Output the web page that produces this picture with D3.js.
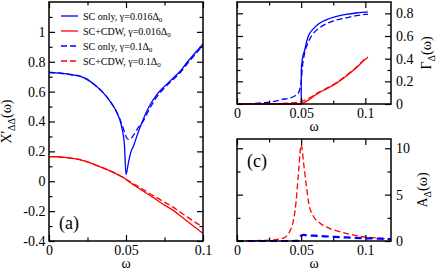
<!DOCTYPE html>
<html>
<head>
<meta charset="utf-8">
<script src="https://cdn.jsdelivr.net/npm/d3@7"></script>
<style>
  body { margin: 0; background: #fff; }
  svg { font-family: "Liberation Serif", "DejaVu Serif", serif; }
</style>
</head>
<body>
<div id="chart"></div>
<script>
// ---- panel (a): X'_ΔΔ(ω) ----
var omegaA = [0, 0.005, 0.01, 0.015, 0.02, 0.025, 0.03, 0.035, 0.04, 0.044, 0.047, 0.049, 0.05,
              0.0515, 0.053, 0.055, 0.058, 0.061, 0.065, 0.07, 0.075, 0.08, 0.085, 0.09, 0.095, 0.1];
var scOnlyLowA = [0.728, 0.726, 0.72, 0.713, 0.704, 0.68, 0.642, 0.595, 0.53, 0.462, 0.372, 0.24, 0.045,
                  0.12, 0.19, 0.24, 0.33, 0.41, 0.50, 0.58, 0.635, 0.685, 0.735, 0.80, 0.86, 0.92];
var scCdwLowA = [0.165, 0.164, 0.16, 0.153, 0.145, 0.13, 0.11, 0.09, 0.068, 0.048, 0.032, 0.02, 0.012,
                 0.0, -0.01, -0.025, -0.045, -0.065, -0.09, -0.125, -0.16, -0.19, -0.23, -0.27, -0.31, -0.35];
var scOnlyHighA = [0.728, 0.726, 0.72, 0.713, 0.704, 0.68, 0.642, 0.595, 0.53, 0.462, 0.39, 0.33, 0.30,
                   0.28, 0.285, 0.31, 0.36, 0.40, 0.48, 0.565, 0.625, 0.675, 0.725, 0.79, 0.85, 0.91];
var scCdwHighA = [0.165, 0.164, 0.16, 0.153, 0.145, 0.13, 0.11, 0.09, 0.068, 0.048, 0.032, 0.02, 0.012,
                  0.005, -0.005, -0.018, -0.036, -0.055, -0.08, -0.11, -0.14, -0.17, -0.205, -0.24, -0.275, -0.305];

// ---- panel (b): Γ_Δ(ω) ----
var omegaB = [0, 0.01, 0.02, 0.03, 0.035, 0.04, 0.045, 0.048, 0.05, 0.0501, 0.051, 0.0527, 0.055,
              0.0565, 0.06, 0.064, 0.07, 0.077, 0.085, 0.093, 0.1, 0.102];
var scOnlyLowB = [0, 0, 0, 0, 0, 0, 0, 0, 0, 0.30, 0.40, 0.474, 0.58, 0.62, 0.67, 0.71, 0.745, 0.77, 0.79, 0.803, 0.81, 0.812];
var scCdwLowB = [0, 0, 0, 0, 0, 0, 0, 0, 0, 0.002, 0.006, 0.015, 0.03, 0.04, 0.07, 0.10, 0.135, 0.18, 0.245, 0.32, 0.395, 0.41];
var scOnlyHighB = [0, 0.003, 0.01, 0.025, 0.04, 0.05, 0.07, 0.10, 0.20, 0.21, 0.33, 0.45, 0.53, 0.57, 0.63, 0.67, 0.71, 0.74, 0.76, 0.78, 0.79, 0.792];
var scCdwHighB = [0, 0, 0.001, 0.003, 0.005, 0.008, 0.012, 0.016, 0.02, 0.021, 0.025, 0.033, 0.045, 0.053, 0.078, 0.105, 0.14, 0.185, 0.25, 0.325, 0.40, 0.415];

// ---- panel (c): A_Δ(ω) ----
var omegaC = [0, 0.01, 0.02, 0.03, 0.036, 0.0423, 0.046, 0.048, 0.05, 0.052, 0.054, 0.056, 0.059,
              0.065, 0.072, 0.08, 0.09, 0.098, 0.11, 0.12];
var scCdwHighC = [0, 0.02, 0.06, 0.15, 0.3, 1.37, 4.2, 7.5, 10.4, 8.3, 6.0, 4.0, 2.8, 1.9, 1.37, 1.0, 0.65, 0.46, 0.32, 0.22];
var scOnlyHighC = [0, 0, 0, 0, 0, 0, 0.01, 0.05, 0.6, 0.65, 0.62, 0.6, 0.58, 0.54, 0.48, 0.42, 0.35, 0.3, 0.25, 0.2];

var legendLabels = ["SC only, γ=0.016Δ", "SC+CDW, γ=0.016Δ", "SC only, γ=0.1Δ", "SC+CDW, γ=0.1Δ"];

var blue = "#0000ff", red = "#ff0000";
var serif = "Liberation Serif, DejaVu Serif, serif";

var svg = d3.select("#chart").append("svg")
    .attr("width", 436)
    .attr("height", 269)
    .attr("font-family", serif);

function panel(p) {
  var x = d3.scaleLinear().domain(p.xDomain).range([p.left, p.right]);
  var y = d3.scaleLinear().domain(p.yDomain).range([p.bottom, p.top]);
  var g = svg.append("g");

  // curves
  var line = d3.line()
      .x(function(d) { return x(d[0]); })
      .y(function(d) { return y(d[1]); })
      .curve(d3.curveMonotoneX);
  p.series.forEach(function(s) {
    g.append("path")
      .datum(d3.zip(s.x, s.y))
      .attr("d", line)
      .attr("fill", "none")
      .attr("stroke", s.color)
      .attr("stroke-width", s.width || 1.3)
      .attr("stroke-dasharray", s.dash || null);
  });

  // ticks, all inward
  function addAxis(axis, tx, ty, labels) {
    var a = g.append("g").attr("transform", "translate(" + tx + "," + ty + ")").call(axis);
    a.attr("font-family", serif).attr("font-size", 14);
    a.select(".domain").remove();
    a.selectAll("line").attr("stroke", "#000").attr("stroke-width", 1.2);
    if (!labels) a.selectAll("text").remove();
    else a.selectAll("text").attr("font-family", serif).attr("fill", "#000");
    return a;
  }
  var xMaj = p.xMajor, yMaj = p.yMajor;
  addAxis(d3.axisBottom(x).tickValues(xMaj).tickSize(-6).tickPadding(p.xPad)
      .tickFormat(function(d, i) { return p.xLabels[i]; }), 0, p.bottom, true);
  addAxis(d3.axisBottom(x).tickValues(p.xMinor).tickSize(-3.5), 0, p.bottom, false);
  addAxis(d3.axisTop(x).tickValues(xMaj).tickSize(-6), 0, p.top, false);
  addAxis(d3.axisTop(x).tickValues(p.xMinor).tickSize(-3.5), 0, p.top, false);

  var yl = p.yRight ? d3.axisRight(y) : d3.axisLeft(y);
  addAxis(yl.tickValues(yMaj).tickSize(-6).tickPadding(p.yRight ? 5 : 3.5)
      .tickFormat(function(d, i) { return p.yLabels[i]; }), p.yRight ? p.right : p.left, 0, true);
  addAxis((p.yRight ? d3.axisRight(y) : d3.axisLeft(y)).tickValues(p.yMinor).tickSize(-3.5),
      p.yRight ? p.right : p.left, 0, false);
  addAxis((p.yRight ? d3.axisLeft(y) : d3.axisRight(y)).tickValues(yMaj).tickSize(-6),
      p.yRight ? p.left : p.right, 0, false);
  addAxis((p.yRight ? d3.axisLeft(y) : d3.axisRight(y)).tickValues(p.yMinor).tickSize(-3.5),
      p.yRight ? p.left : p.right, 0, false);

  g.append("rect")
    .attr("x", p.left).attr("y", p.top)
    .attr("width", p.right - p.left).attr("height", p.bottom - p.top)
    .attr("fill", "none").attr("stroke", "#000").attr("stroke-width", 1.5);

  // x label
  g.append("text")
    .attr("x", (p.left + p.right) / 2).attr("y", p.xTitleY)
    .attr("text-anchor", "middle").attr("font-size", 14)
    .text("ω");

  // y label
  var t = g.append("text")
    .attr("transform", "translate(" + p.yTitleX + "," + (p.top + p.bottom) / 2 + ") rotate(-90)")
    .attr("text-anchor", "middle").attr("font-size", 14);
  t.append("tspan").text(p.yTitle[0]);
  t.append("tspan").attr("dy", 3.5).attr("font-size", 10).text(p.yTitle[1]);
  t.append("tspan").attr("dy", -3.5).text("(ω)");

  if (p.tag) {
    g.append("text").attr("x", p.tag[1]).attr("y", p.tag[2])
      .attr("font-size", 18).text(p.tag[0]);
  }
  return { x: x, y: y, g: g };
}

panel({
  left: 49, right: 203, top: 2, bottom: 241,
  xDomain: [0, 0.1], yDomain: [-0.4, 1.2], xPad: 4,
  xMajor: [0, 0.05, 0.1], xLabels: ["0", "0.05", "0.1"], xMinor: [0.025, 0.075],
  yMajor: [-0.4, -0.2, 0, 0.2, 0.4, 0.6, 0.8, 1.0], yLabels: ["-0.4", "-0.2", "0", "0.2", "0.4", "0.6", "0.8", "1"],
  yMinor: [-0.3, -0.1, 0.1, 0.3, 0.5, 0.7, 0.9, 1.1],
  xTitleY: 267.5, yTitleX: 11, yTitle: ["X'", "ΔΔ"], tag: ["(a)", 59, 229],
  series: [
    { x: omegaA, y: scOnlyLowA, color: blue },
    { x: omegaA, y: scCdwLowA, color: red },
    { x: omegaA, y: scOnlyHighA, color: blue, dash: "6,3" },
    { x: omegaA, y: scCdwHighA, color: red, dash: "6,3" }
  ]
});

panel({
  left: 237, right: 391, top: 2, bottom: 104,
  xDomain: [0, 0.12], yDomain: [0, 0.9], yRight: true, xPad: 4,
  xMajor: [0, 0.05, 0.1], xLabels: ["0", "0.05", "0.1"], xMinor: [0.025, 0.075],
  yMajor: [0, 0.2, 0.4, 0.6, 0.8], yLabels: ["0", "0.2", "0.4", "0.6", "0.8"],
  yMinor: [0.1, 0.3, 0.5, 0.7],
  xTitleY: 131, yTitleX: 431, yTitle: ["Γ", "Δ"],
  series: [
    { x: omegaB, y: scOnlyLowB, color: blue },
    { x: omegaB, y: scCdwLowB, color: red },
    { x: omegaB, y: scOnlyHighB, color: blue, dash: "6,3" },
    { x: omegaB, y: scCdwHighB, color: red, dash: "6,3" }
  ]
});

panel({
  left: 237, right: 391, top: 139, bottom: 241,
  xDomain: [0, 0.12], yDomain: [0, 11], yRight: true, xPad: 4,
  xMajor: [0, 0.05, 0.1], xLabels: ["0", "0.05", "0.1"], xMinor: [0.025, 0.075],
  yMajor: [0, 5, 10], yLabels: ["0", "5", "10"],
  yMinor: [2.5, 7.5],
  xTitleY: 267.5, yTitleX: 427, yTitle: ["A", "Δ"], tag: ["(c)", 247, 167],
  series: [
    { x: omegaC, y: scCdwHighC, color: red, dash: "6,3" },
    { x: omegaC, y: scOnlyHighC, color: blue, dash: "7,4", width: 2.2 }
  ]
});

// legend in panel (a)
var legendStyle = [
  { color: blue, dash: null }, { color: red, dash: null },
  { color: blue, dash: "6,3" }, { color: red, dash: "6,3" }
];
var leg = svg.append("g").attr("font-size", 10);
legendLabels.forEach(function(lab, i) {
  var yy = 19.5 + i * 15;
  leg.append("line")
    .attr("x1", 61).attr("x2", 78).attr("y1", yy - 3.5).attr("y2", yy - 3.5)
    .attr("stroke", legendStyle[i].color).attr("stroke-width", 1.3)
    .attr("stroke-dasharray", legendStyle[i].dash);
  var t = leg.append("text").attr("x", 83).attr("y", yy);
  t.append("tspan").text(lab);
  t.append("tspan").attr("dy", 2.5).attr("font-size", 7).text("0");
});
</script>
</body>
</html>
